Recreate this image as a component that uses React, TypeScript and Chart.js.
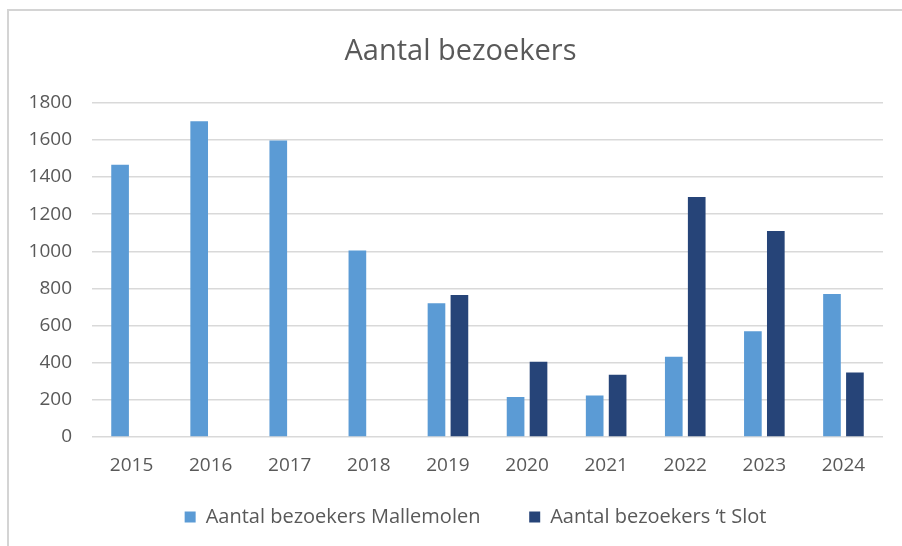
import React, { useEffect, useRef } from "react";
import { Chart, registerables } from "chart.js";

Chart.register(...registerables);

const years = ["2015", "2016", "2017", "2018", "2019", "2020", "2021", "2022", "2023", "2024"];
const mallemolen = [1467, 1700, 1597, 1005, 720, 215, 224, 432, 569, 770];
const slot = [null, null, null, null, 765, 405, 335, 1292, 1109, 348];
const yTicks = [0, 200, 400, 600, 800, 1000, 1200, 1400, 1600, 1800];

const FONT = "'Open Sans', 'Noto Sans', sans-serif";
const TEXT = "#595959";

const borderPlugin = {
  id: "frame",
  beforeDraw(chart: any) {
    const ctx = chart.ctx;
    ctx.save();
    ctx.fillStyle = "#ffffff";
    ctx.fillRect(0, 0, chart.width, chart.height);
    ctx.strokeStyle = "#d4d4d4";
    ctx.lineWidth = 2;
    ctx.beginPath();
    ctx.moveTo(8, chart.height);
    ctx.lineTo(8, 10);
    ctx.lineTo(chart.width, 10);
    ctx.stroke();
    ctx.restore();
  },
};

const shiftPlugin = {
  id: "shift",
  afterLayout(chart: any) {
    if (chart.legend) {
      chart.legend.left += 30;
      chart.legend.right += 30;
    }
    if (chart.titleBlock) {
      chart.titleBlock.left += 15;
      chart.titleBlock.right += 15;
    }
  },
};

export default function App() {
  const ref = useRef<HTMLCanvasElement>(null);
  useEffect(() => {
    if (!ref.current) return;
    const chart = new Chart(ref.current, {
      type: "bar",
      data: {
        labels: years,
        datasets: [
          {
            label: "Aantal bezoekers Mallemolen",
            data: mallemolen,
            backgroundColor: "#5B9BD5",
            categoryPercentage: 0.58,
            barPercentage: 0.77,
          },
          {
            label: "Aantal bezoekers \u2018t Slot",
            data: slot,
            backgroundColor: "#264478",
            categoryPercentage: 0.58,
            barPercentage: 0.77,
          },
        ],
      },
      options: {
        animation: false,
        responsive: false,
        layout: { padding: { top: 10, left: 8, right: 19, bottom: 9 } },
        plugins: {
          title: {
            display: true,
            text: "Aantal bezoekers",
            color: TEXT,
            font: { family: FONT, size: 29, weight: "normal", lineHeight: 1.2 },
            padding: { top: 24, bottom: 34 },
          },
          legend: {
            position: "bottom",
            labels: {
              color: TEXT,
              font: { family: FONT, size: 20 },
              boxWidth: 11,
              boxHeight: 11,
              padding: 28,
              generateLabels(chart: any) {
                const items = Chart.defaults.plugins.legend.labels.generateLabels(chart);
                if (items[0]) items[0].text = items[0].text + "    ";
                return items;
              },
            },
          },
          tooltip: { enabled: false },
        },
        scales: {
          x: {
            grid: { display: false, drawTicks: false },
            border: { display: false },
            ticks: { color: TEXT, font: { family: FONT, size: 19 }, padding: 17 },
            afterFit(scale: any) {
              scale.height = 42;
            },
          },
          y: {
            min: 0,
            max: 1800,
            afterBuildTicks(scale: any) {
              scale.ticks = yTicks.map((v) => ({ value: v }));
            },
            grid: { color: "#D9D9D9", lineWidth: 1.5, drawTicks: false },
            border: { display: false },
            ticks: {
              color: TEXT,
              font: { family: FONT, size: 19 },
              padding: 20,
              callback: (v: any) => String(v),
            },
            afterFit(scale: any) {
              scale.width = 84;
            },
          },
        },
      },
      plugins: [borderPlugin, shiftPlugin],
    });
    return () => chart.destroy();
  }, []);
  return (
    <div style={{ position: "fixed", left: 0, top: 0, width: 902, height: 546, background: "#fff" }}>
      <canvas ref={ref} width={902} height={546} style={{ display: "block" }} />
    </div>
  );
}
